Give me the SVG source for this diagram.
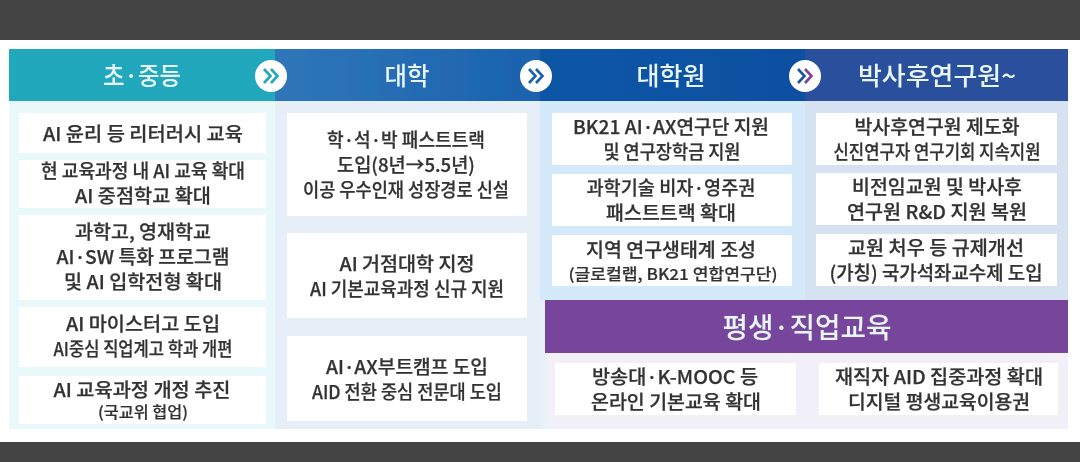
<svg xmlns="http://www.w3.org/2000/svg" width="1080" height="462" viewBox="0 0 1080 462">
<style>
text{font-family:"Noto Sans CJK KR","Noto Sans",sans-serif;text-anchor:middle}
.b{fill:#fff}
.t{font-size:19px;font-weight:500;fill:#333;stroke:#333;stroke-width:.25}
.s{font-size:15.5px;font-weight:500;fill:#333;stroke:#333;stroke-width:.2}
.h{font-size:25px;font-weight:500;fill:#e8f6fa}
.c{fill:#fff}
.a{fill:none;stroke-width:2.6}
</style>
<defs>
<filter id="soft" x="-2%" y="-2%" width="104%" height="104%"><feGaussianBlur stdDeviation="0.6"/></filter>
<linearGradient id="g2" x1="0" x2="1" y1="0" y2="0"><stop offset="0" stop-color="#2f76b9"/><stop offset="1" stop-color="#1a62ae"/></linearGradient>
<linearGradient id="g3" x1="0" x2="1" y1="0" y2="0"><stop offset="0" stop-color="#0e57a6"/><stop offset="1" stop-color="#0b4fa0"/></linearGradient>
</defs>
<rect width="1080" height="462" fill="#fff"/>
<rect width="1080" height="40" fill="#444"/>
<rect y="442" width="1080" height="20" fill="#444"/>
<g filter="url(#soft)">
<g id="panels">
<rect x="9" y="100" width="266" height="329" fill="#e9f8fb"/>
<rect x="275" y="100" width="265" height="329" fill="#e6eff8"/>
<rect x="540" y="100" width="265" height="200" fill="#d4eafb"/>
<rect x="805" y="100" width="263" height="200" fill="#d6e1f1"/>
<rect x="540" y="300" width="5" height="129" fill="#e6f2fb"/>
<rect x="545" y="353" width="523" height="76" fill="#f1eff8"/>
</g>
<g id="col-elementary">
<rect x="9" y="49" width="266" height="52" fill="#23a8bd"/>
<text class="h" x="142" y="85" textLength="78" lengthAdjust="spacingAndGlyphs">초·중등</text>
</g>
<g id="col-university">
<rect x="275" y="49" width="265" height="52" fill="url(#g2)"/>
<text class="h" x="407" y="85" textLength="45" lengthAdjust="spacingAndGlyphs">대학</text>
</g>
<g id="col-graduate">
<rect x="540" y="49" width="265" height="52" fill="url(#g3)"/>
<text class="h" x="671" y="85" textLength="69" lengthAdjust="spacingAndGlyphs">대학원</text>
</g>
<g id="col-postdoc">
<rect x="805" y="49" width="263" height="52" fill="#2a4f9c"/>
<text class="h" x="937" y="85" textLength="158" lengthAdjust="spacingAndGlyphs">박사후연구원~</text>
</g>
<g id="n1"><rect class="b" x="19" y="113" width="247" height="40"/><text class="t" x="143" y="141" textLength="200" lengthAdjust="spacingAndGlyphs">AI 윤리 등 리터러시 교육</text></g>
<g id="n2"><rect class="b" x="19" y="160" width="247" height="48"/><text class="t" x="143" y="178" textLength="204" lengthAdjust="spacingAndGlyphs">현 교육과정 내 AI 교육 확대</text><text class="t" x="143" y="203" textLength="136" lengthAdjust="spacingAndGlyphs">AI 중점학교 확대</text></g>
<g id="n3"><rect class="b" x="19" y="215" width="247" height="85"/><text class="t" x="143" y="239" textLength="136" lengthAdjust="spacingAndGlyphs">과학고, 영재학교</text><text class="t" x="143" y="264" textLength="173" lengthAdjust="spacingAndGlyphs">AI·SW 특화 프로그램</text><text class="t" x="143" y="289" textLength="158" lengthAdjust="spacingAndGlyphs">및 AI 입학전형 확대</text></g>
<g id="n4"><rect class="b" x="19" y="307" width="247" height="60"/><text class="t" x="143" y="331" textLength="154" lengthAdjust="spacingAndGlyphs">AI 마이스터고 도입</text><text class="t" x="143" y="356" textLength="179" lengthAdjust="spacingAndGlyphs">AI중심 직업계고 학과 개편</text></g>
<g id="n5"><rect class="b" x="19" y="376" width="247" height="48"/><text class="t" x="142" y="397" textLength="177" lengthAdjust="spacingAndGlyphs">AI 교육과정 개정 추진</text><text class="s" x="143" y="418" textLength="90" lengthAdjust="spacingAndGlyphs">(국교위 협업)</text></g>
<g id="n6"><rect class="b" x="287" y="113" width="240" height="103"/><text class="t" x="406" y="147" textLength="158" lengthAdjust="spacingAndGlyphs">학·석·박 패스트트랙</text><text class="t" x="406" y="172" textLength="138" lengthAdjust="spacingAndGlyphs">도입(8년→5.5년)</text><text class="t" x="406" y="197" textLength="206" lengthAdjust="spacingAndGlyphs">이공 우수인재 성장경로 신설</text></g>
<g id="n7"><rect class="b" x="287" y="233" width="240" height="85"/><text class="t" x="407" y="271" textLength="135" lengthAdjust="spacingAndGlyphs">AI 거점대학 지정</text><text class="t" x="407" y="296" textLength="194" lengthAdjust="spacingAndGlyphs">AI 기본교육과정 신규 지원</text></g>
<g id="n8"><rect class="b" x="287" y="336" width="240" height="85"/><text class="t" x="407" y="374" textLength="162" lengthAdjust="spacingAndGlyphs">AI·AX부트캠프 도입</text><text class="t" x="407" y="399" textLength="190" lengthAdjust="spacingAndGlyphs">AID 전환 중심 전문대 도입</text></g>
<g id="n9"><rect class="b" x="552" y="113" width="240" height="52"/><text class="t" x="671" y="134" textLength="196" lengthAdjust="spacingAndGlyphs">BK21 AI·AX연구단 지원</text><text class="t" x="672" y="159" textLength="137" lengthAdjust="spacingAndGlyphs">및 연구장학금 지원</text></g>
<g id="n10"><rect class="b" x="552" y="174" width="240" height="52"/><text class="t" x="671" y="195" textLength="169" lengthAdjust="spacingAndGlyphs">과학기술 비자·영주권</text><text class="t" x="671" y="220" textLength="130" lengthAdjust="spacingAndGlyphs">패스트트랙 확대</text></g>
<g id="n11"><rect class="b" x="552" y="235" width="240" height="51"/><text class="t" x="671" y="257" textLength="170" lengthAdjust="spacingAndGlyphs">지역 연구생태계 조성</text><text class="s" x="673" y="280" textLength="209" lengthAdjust="spacingAndGlyphs">(글로컬랩, BK21 연합연구단)</text></g>
<g id="n12"><rect class="b" x="816" y="113" width="241" height="52"/><text class="t" x="937" y="134" textLength="165" lengthAdjust="spacingAndGlyphs">박사후연구원 제도화</text><text class="t" x="937" y="159" textLength="207" lengthAdjust="spacingAndGlyphs">신진연구자 연구기회 지속지원</text></g>
<g id="n13"><rect class="b" x="816" y="173" width="241" height="52"/><text class="t" x="937" y="194" textLength="170" lengthAdjust="spacingAndGlyphs">비전임교원 및 박사후</text><text class="t" x="937" y="219" textLength="180" lengthAdjust="spacingAndGlyphs">연구원 R&amp;D 지원 복원</text></g>
<g id="n14"><rect class="b" x="816" y="234" width="241" height="52"/><text class="t" x="936" y="255" textLength="176" lengthAdjust="spacingAndGlyphs">교원 처우 등 규제개선</text><text class="t" x="936" y="280" textLength="213" lengthAdjust="spacingAndGlyphs">(가칭) 국가석좌교수제 도입</text></g>
<g id="lifelong"><rect x="545" y="300" width="523" height="53" fill="#77459b"/><text class="h" x="807" y="338" style="font-size:28px" textLength="169" lengthAdjust="spacingAndGlyphs">평생·직업교육</text></g>
<g id="n15"><rect class="b" x="555" y="363" width="241" height="52"/><text class="t" x="675" y="384" textLength="166" lengthAdjust="spacingAndGlyphs">방송대·K-MOOC 등</text><text class="t" x="676" y="409" textLength="170" lengthAdjust="spacingAndGlyphs">온라인 기본교육 확대</text></g>
<g id="n16"><rect class="b" x="819" y="363" width="239" height="52"/><text class="t" x="939" y="384" textLength="208" lengthAdjust="spacingAndGlyphs">재직자 AID 집중과정 확대</text><text class="t" x="939" y="409" textLength="182" lengthAdjust="spacingAndGlyphs">디지털 평생교육이용권</text></g>
<g id="connectors">
<circle class="c" cx="271" cy="76" r="16"/><path class="a" stroke="#23a8bd" d="M264 69l6.500 7-6.500 7M271 69l6.500 7-6.500 7"/>
<circle class="c" cx="536" cy="76" r="16"/><path class="a" stroke="#1a62ae" d="M529 69l6.500 7-6.500 7M536 69l6.500 7-6.500 7"/>
<circle class="c" cx="805" cy="76" r="16"/><path class="a" stroke="#1a55a5" d="M798 69l6.500 7-6.500 7"/><path class="a" stroke="#77459b" d="M805 69l6.500 7-6.500 7"/>
</g>
</g>
</svg>
